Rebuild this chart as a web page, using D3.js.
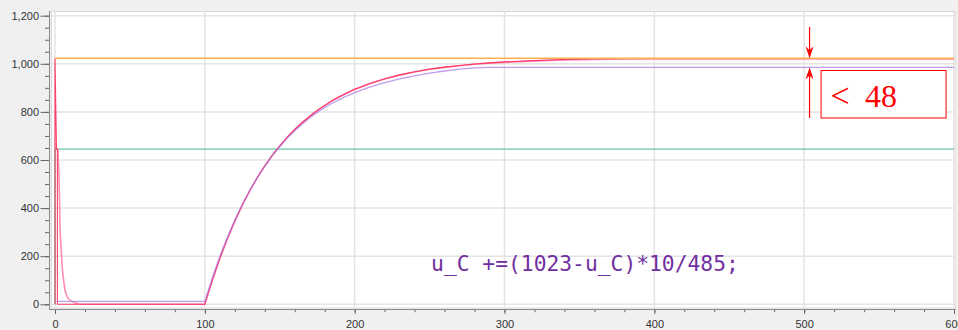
<!DOCTYPE html>
<html>
<head>
<meta charset="utf-8">
<script src="https://cdn.jsdelivr.net/npm/d3@7"></script>
<style>
  html, body { margin: 0; padding: 0; background: #f0f0f0; }
  svg { display: block; }
</style>
</head>
<body>
<div id="chart"></div>
<script>
// input step (target value)
const inputSeries = [[0, 1023], [600, 1023]];
// comparison level
const levelSeries = [[0, 0], [0, 645], [600, 645]];
// integer result, truncated division (stalls below 1023)
const intSeries = [[1, 12], [100, 12], [102.5, 62], [105, 110], [110, 200], [115, 278], [120, 350],
  [125, 415], [130, 474], [135, 527], [140, 574], [145, 618], [150, 655], [155, 691], [160, 721],
  [165, 750], [170, 775], [175, 798], [180, 818], [185, 836], [190, 852], [195, 867], [200, 880],
  [210, 903], [220, 922], [230, 937], [240, 950], [250, 961], [260, 970], [270, 978], [280, 983],
  [290, 985], [600, 985]];
// float reference
const floatSeries = [[1.6, 645], [2, 640], [2.6, 540], [3, 440], [3.3, 330], [3.7, 270], [4.2, 220],
  [4.7, 165], [5.3, 122], [6, 88], [6.9, 52], [8, 33], [9.1, 22], [10.5, 15], [12, 10], [14, 5],
  [16, 1], [18, 0], [100, 0], [102.5, 51], [105, 100], [110, 190], [115, 272], [120, 345], [125, 412],
  [130, 472], [135, 526], [140, 575], [145, 619], [150, 658], [155, 694], [160, 726], [165, 755],
  [170, 781], [175, 805], [180, 826], [185, 846], [190, 863], [195, 879], [200, 893], [210, 917],
  [220, 937], [230, 953], [240, 966], [250, 977], [260, 985], [270, 992], [280, 998], [290, 1003],
  [300, 1006], [320, 1012], [340, 1016], [360, 1018], [380, 1020], [600, 1020]];
// measured output
const measSeries = [[0, 0], [0, 1023], [1, 645], [1.6, 645], [1.6, 0], [100, 0], [102.5, 52],
  [105, 101], [110, 191], [115, 273], [120, 346], [125, 413], [130, 473], [135, 527], [140, 576],
  [145, 620], [150, 659], [155, 695], [160, 727], [165, 756], [170, 782], [175, 806], [180, 827],
  [185, 847], [190, 864], [195, 880], [200, 894], [210, 918], [220, 938], [230, 954], [240, 967],
  [250, 978], [260, 986], [270, 993], [280, 999], [290, 1004], [300, 1008], [320, 1013], [340, 1018],
  [360, 1021], [400, 1022], [600, 1022]];

const xTicks = [0, 100, 200, 300, 400, 500, 600];
const yTicks = [0, 200, 400, 600, 800, 1000, 1200];
const xMinor = d3.range(0, 601, 20);
const yMinor = d3.range(0, 1201, 50);

const formulaText = "u_C +=(1023-u_C)*10/485";
const gapLabel = "48";

const W = 958, H = 330;
const svg = d3.select("#chart").append("svg").attr("width", W).attr("height", H);
svg.append("rect").attr("width", W).attr("height", H).attr("fill", "#f0f0f0");

const x = d3.scaleLinear().domain([0, 600]).range([55, 954]);
const y = d3.scaleLinear().domain([0, 1200]).range([304.3, 15.7]);

// plot frame
svg.append("rect")
  .attr("x", 51.5).attr("y", 11.5).attr("width", 903.5).attr("height", 296.5)
  .attr("fill", "#fff").attr("stroke", "#d9d9d9");

// grid
const grid = svg.append("g");
grid.selectAll("line.gx").data(xTicks).enter().append("line")
  .attr("x1", d => x(d)).attr("x2", d => x(d))
  .attr("y1", 12).attr("y2", 308)
  .attr("stroke", "#e4e4e4").attr("stroke-width", 1.5);
grid.selectAll("line.gy").data(yTicks).enter().append("line")
  .attr("x1", 52).attr("x2", 955)
  .attr("y1", d => y(d)).attr("y2", d => y(d))
  .attr("stroke", "#e4e4e4").attr("stroke-width", 1.5);

// axes
const yAxisMinor = svg.append("g").attr("transform", "translate(49.5,0)")
  .call(d3.axisLeft(y).tickValues(yMinor).tickSize(4.5).tickFormat(""));
const yAxis = svg.append("g").attr("transform", "translate(49.5,0)")
  .call(d3.axisLeft(y).tickValues(yTicks).tickSize(9).tickPadding(1.5).tickFormat(d3.format(",")));
const xAxisMinor = svg.append("g").attr("transform", "translate(0,309.5)")
  .call(d3.axisBottom(x).tickValues(xMinor).tickSize(2.7).tickFormat(""));
const xAxis = svg.append("g").attr("transform", "translate(0,309.5)")
  .call(d3.axisBottom(x).tickValues(xTicks).tickSize(4.5).tickPadding(6));

[yAxisMinor, yAxis, xAxisMinor, xAxis].forEach(g => {
  g.select(".domain").remove();
  g.selectAll(".tick line").attr("stroke", "#666");
  g.selectAll("text").attr("fill", "#333")
    .style("font-family", "'Liberation Sans', Arial, sans-serif").style("font-size", "11px");
});
svg.append("line").attr("x1", 49.5).attr("x2", 49.5).attr("y1", 11).attr("y2", 310)
  .attr("stroke", "#8a8a8a");
svg.append("line").attr("x1", 49).attr("x2", 956).attr("y1", 309.5).attr("y2", 309.5)
  .attr("stroke", "#8a8a8a");

// series
const line = d3.line().x(d => x(d[0])).y(d => y(d[1]));
const series = [
  { data: levelSeries, color: "#6cc4a4", w: 1.3, op: 1 },
  { data: floatSeries, color: "#ff8cb4", w: 1.6, op: 1 },
  { data: measSeries, color: "#ff2d5a", w: 1.1, op: 0.9 },
  { data: inputSeries, color: "#ffb04a", w: 1.3, op: 1 },
  { data: intSeries, color: "#a97ce6", w: 1.3, op: 0.75 }
];
svg.append("g").selectAll("path").data(series).enter().append("path")
  .attr("d", d => line(d.data))
  .attr("fill", "none")
  .attr("stroke", d => d.color)
  .attr("stroke-width", d => d.w)
  .attr("stroke-opacity", d => d.op);

// formula
svg.append("text")
  .attr("x", x(251)).attr("y", 270.7)
  .attr("fill", "#7030a0")
  .style("font-family", "'DejaVu Sans Mono', 'Liberation Mono', monospace")
  .style("font-size", "21.3px")
  .text(formulaText + ";");

// gap annotation
const ax = x(503.6);
const red = "#ff0000";
const ann = svg.append("g");
const topY = y(1023), botY = y(985);
ann.append("line").attr("x1", ax).attr("x2", ax).attr("y1", 27).attr("y2", topY - 2)
  .attr("stroke", red).attr("stroke-width", 1.2);
ann.append("path")
  .attr("d", `M${ax},${topY} L${ax - 4},${topY - 12} L${ax},${topY - 8} L${ax + 4},${topY - 12} Z`)
  .attr("fill", red);
ann.append("line").attr("x1", ax).attr("x2", ax).attr("y1", botY + 2).attr("y2", 118)
  .attr("stroke", red).attr("stroke-width", 1.2);
ann.append("path")
  .attr("d", `M${ax},${botY} L${ax - 4},${botY + 12} L${ax},${botY + 8} L${ax + 4},${botY + 12} Z`)
  .attr("fill", red);
ann.append("rect")
  .attr("x", ax + 11.5).attr("y", 70.5).attr("width", 125).attr("height", 47.5)
  .attr("fill", "#fff").attr("stroke", red).attr("stroke-width", 1);
ann.append("text")
  .attr("x", ax + 21).attr("y", 106.5).attr("fill", red)
  .style("font-family", "'Liberation Serif', 'Times New Roman', serif").style("font-size", "34px")
  .text("<");
ann.append("text")
  .attr("x", ax + 55.5).attr("y", 106.5).attr("fill", red)
  .style("font-family", "'Liberation Serif', 'Times New Roman', serif").style("font-size", "32px")
  .text(gapLabel);
</script>
</body>
</html>
